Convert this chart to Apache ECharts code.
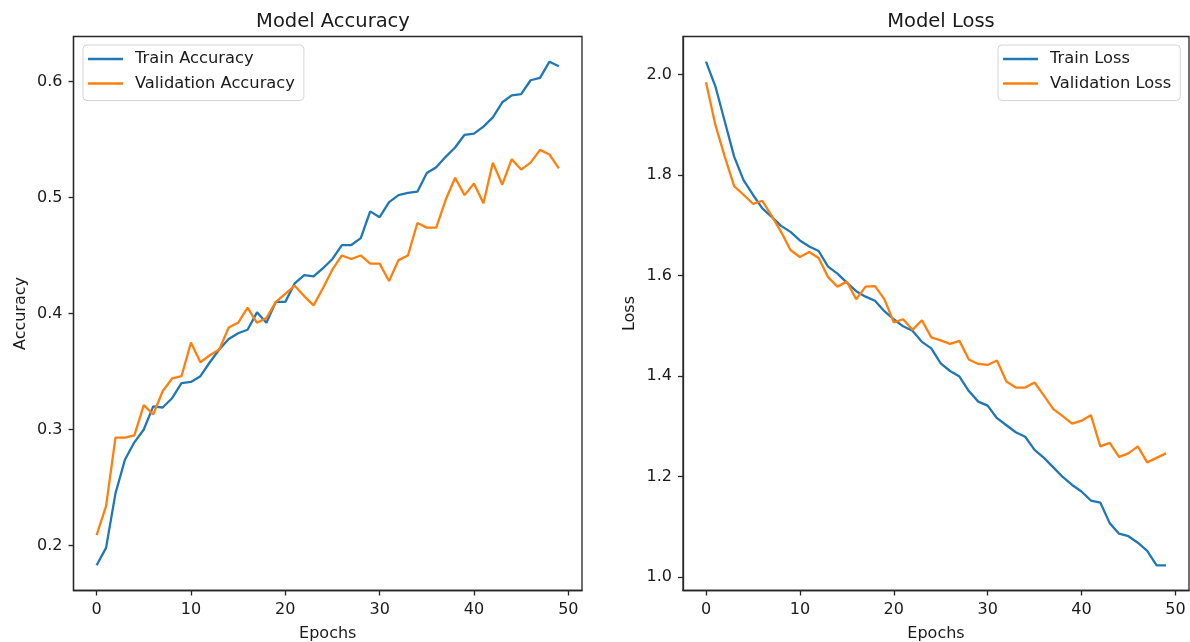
<!DOCTYPE html>
<html>
<head>
<meta charset="utf-8">
<script src="https://cdn.jsdelivr.net/npm/echarts@6/dist/echarts.min.js"></script>
<style>
  html, body { margin: 0; padding: 0; background: #fff; }
  #chart { width: 1190px; height: 642px; }
</style>
</head>
<body>
<div id="chart"></div>
<script>
// Training history, one value per epoch
const trainAccuracy = [
  0.183, 0.198, 0.245, 0.274, 0.289, 0.300, 0.320, 0.319, 0.327, 0.340,
  0.341, 0.346, 0.358, 0.369, 0.378, 0.383, 0.386, 0.401, 0.392, 0.410,
  0.410, 0.426, 0.433, 0.432, 0.439, 0.447, 0.459, 0.459, 0.465, 0.488,
  0.483, 0.496, 0.502, 0.504, 0.505, 0.521, 0.526, 0.535, 0.543, 0.554,
  0.555, 0.561, 0.569, 0.582, 0.588, 0.589, 0.601, 0.603, 0.617, 0.613
];
const validationAccuracy = [
  0.209, 0.234, 0.293, 0.293, 0.295, 0.321, 0.313, 0.333, 0.344, 0.346,
  0.375, 0.358, 0.364, 0.369, 0.388, 0.392, 0.405, 0.392, 0.396, 0.410,
  0.417, 0.424, 0.415, 0.407, 0.422, 0.438, 0.450, 0.447, 0.450, 0.443,
  0.443, 0.428, 0.446, 0.450, 0.478, 0.474, 0.474, 0.498, 0.517, 0.502,
  0.512, 0.495, 0.530, 0.511, 0.533, 0.524, 0.530, 0.541, 0.537, 0.525
];
const trainLoss = [
  2.026, 1.977, 1.907, 1.837, 1.790, 1.761, 1.734, 1.717, 1.699, 1.687,
  1.670, 1.658, 1.649, 1.618, 1.604, 1.586, 1.569, 1.558, 1.550, 1.529,
  1.513, 1.499, 1.490, 1.468, 1.455, 1.425, 1.410, 1.399, 1.370, 1.349,
  1.341, 1.316, 1.302, 1.288, 1.279, 1.253, 1.237, 1.218, 1.199, 1.183,
  1.170, 1.152, 1.148, 1.107, 1.086, 1.081, 1.068, 1.052, 1.023, 1.023
];
const validationLoss = [
  1.985, 1.900, 1.837, 1.778, 1.761, 1.743, 1.749, 1.719, 1.687, 1.651,
  1.637, 1.647, 1.635, 1.597, 1.578, 1.588, 1.553, 1.578, 1.579, 1.553,
  1.507, 1.513, 1.492, 1.511, 1.477, 1.471, 1.464, 1.470, 1.433, 1.424,
  1.422, 1.431, 1.389, 1.377, 1.377, 1.387, 1.361, 1.334, 1.320, 1.305,
  1.311, 1.322, 1.260, 1.267, 1.239, 1.246, 1.260, 1.228, 1.237, 1.246
];

// Tick labels
const epochTicks = [0, 10, 20, 30, 40, 50];
const accuracyTicks = [0.2, 0.3, 0.4, 0.5, 0.6];
const lossTicks = [1.0, 1.2, 1.4, 1.6, 1.8, 2.0];

const FONT = 'DejaVu Sans';
const BLUE = '#1f77b4';
const ORANGE = '#ff7f0e';
const INK = '#1a1a1a';
const SPINE = '#262626';
const TEXT_SIZE = 16;
const LEGEND_SIZE = 16.3;
const TITLE_SIZE = 19.5;

// Pair each value with its epoch index
const toPoints = arr => arr.map((v, i) => [i, v]);

// Axis limits padded by 5% of the data span on both sides
function paddedRange(arrays) {
  const all = [].concat(...arrays);
  const lo = Math.min(...all), hi = Math.max(...all);
  const pad = (hi - lo) * 0.05;
  return { min: lo - pad, max: hi + pad };
}
const epochCount = trainAccuracy.length;
const epochPad = (epochCount - 1) * 0.05;
const accRange = paddedRange([trainAccuracy, validationAccuracy]);
const lossRange = paddedRange([trainLoss, validationLoss]);

function xAxisFor(gridIndex) {
  return {
    type: 'value',
    gridIndex,
    min: -epochPad,
    max: epochCount - 1 + epochPad,
    name: 'Epochs',
    nameLocation: 'middle',
    nameGap: 35,
    nameTextStyle: { fontFamily: FONT, fontSize: TEXT_SIZE, color: INK },
    axisLine: { show: true, onZero: false, lineStyle: { color: SPINE, width: 1.3 } },
    axisTick: { show: true, inside: false, length: 5, customValues: epochTicks,
                lineStyle: { color: SPINE, width: 1.3 } },
    axisLabel: { show: true, margin: 11, customValues: epochTicks,
                 fontFamily: FONT, fontSize: TEXT_SIZE, color: INK,
                 formatter: v => String(v) },
    splitLine: { show: false }
  };
}

function yAxisFor(gridIndex, name, range, ticks) {
  return {
    type: 'value',
    gridIndex,
    min: range.min,
    max: range.max,
    name,
    nameLocation: 'middle',
    nameRotate: 90,
    nameGap: 45,
    nameTextStyle: { fontFamily: FONT, fontSize: TEXT_SIZE, color: INK },
    axisLine: { show: true, onZero: false, lineStyle: { color: SPINE, width: 1.3 } },
    axisTick: { show: true, inside: false, length: 5, customValues: ticks,
                lineStyle: { color: SPINE, width: 1.3 } },
    axisLabel: { show: true, margin: 11, customValues: ticks,
                 fontFamily: FONT, fontSize: TEXT_SIZE, color: INK,
                 formatter: v => v.toFixed(1) },
    splitLine: { show: false }
  };
}

function lineSeries(name, data, color, axisIndex) {
  return {
    type: 'line',
    name,
    xAxisIndex: axisIndex,
    yAxisIndex: axisIndex,
    data: toPoints(data),
    symbol: 'none',
    showSymbol: false,
    smooth: false,
    lineStyle: { color, width: 2.3 },
    itemStyle: { color },
    emphasis: { disabled: true },
    z: 3
  };
}

const legendStyle = {
  orient: 'vertical',
  icon: 'rect',
  itemWidth: 35,
  itemHeight: 2.4,
  itemGap: 6.5,
  padding: [5, 9, 8, 5],
  backgroundColor: 'rgba(255,255,255,0.8)',
  borderColor: '#d4d4d4',
  borderWidth: 1,
  borderRadius: 4,
  selectedMode: false,
  textStyle: { fontFamily: FONT, fontSize: LEGEND_SIZE, color: INK, lineHeight: 18,
               padding: [0, 0, 0, 7] }
};

function gridAt(left, width) {
  return {
    left, top: 36.5, width, height: 554,
    outerBoundsMode: 'none',
    containLabel: false,
    show: true,
    borderColor: SPINE, borderWidth: 1.3, backgroundColor: 'transparent'
  };
}

const chart = echarts.init(document.getElementById('chart'), null, { renderer: 'canvas' });
chart.setOption({
  animation: false,
  backgroundColor: '#ffffff',
  title: [
    { text: 'Model Accuracy', left: 328, top: 7, textAlign: 'center',
      textStyle: { fontFamily: FONT, fontSize: TITLE_SIZE, fontWeight: 'normal', color: INK } },
    { text: 'Model Loss', left: 936, top: 7, textAlign: 'center',
      textStyle: { fontFamily: FONT, fontSize: TITLE_SIZE, fontWeight: 'normal', color: INK } }
  ],
  legend: [
    Object.assign({}, legendStyle, { left: 83, top: 45,
      data: ['Train Accuracy', 'Validation Accuracy'] }),
    Object.assign({}, legendStyle, { left: 998, top: 45,
      data: ['Train Loss', 'Validation Loss'] })
  ],
  grid: [gridAt(73.5, 508.5), gridAt(683, 506)],
  xAxis: [xAxisFor(0), xAxisFor(1)],
  yAxis: [
    yAxisFor(0, 'Accuracy', accRange, accuracyTicks),
    yAxisFor(1, 'Loss', lossRange, lossTicks)
  ],
  series: [
    lineSeries('Train Accuracy', trainAccuracy, BLUE, 0),
    lineSeries('Validation Accuracy', validationAccuracy, ORANGE, 0),
    lineSeries('Train Loss', trainLoss, BLUE, 1),
    lineSeries('Validation Loss', validationLoss, ORANGE, 1)
  ]
});
</script>
</body>
</html>
